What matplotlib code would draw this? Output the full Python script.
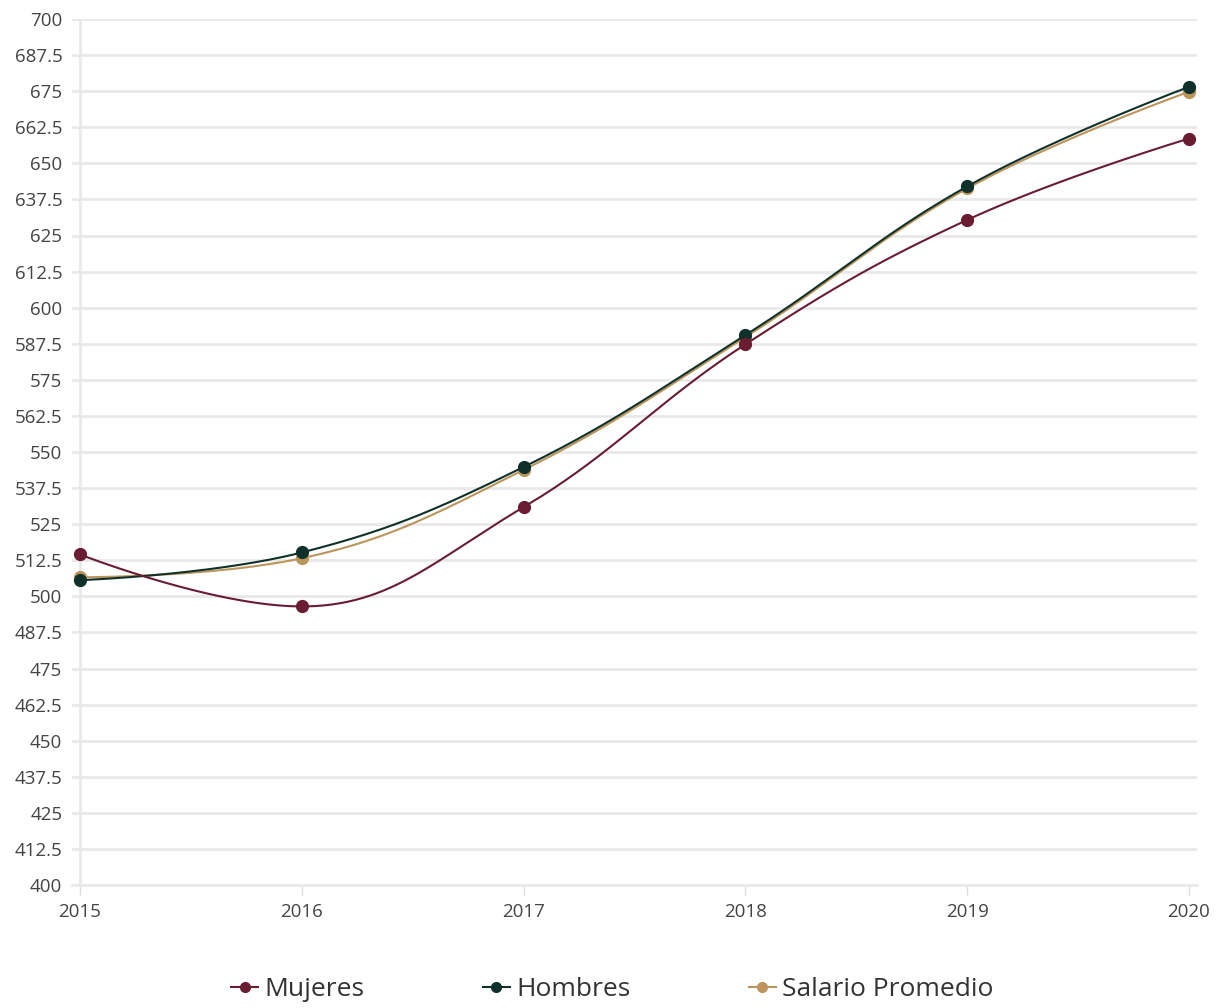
import numpy as np
import matplotlib
matplotlib.use('agg')
import matplotlib.pyplot as plt
from matplotlib.lines import Line2D

plt.rcParams['font.family'] = ['Open Sans', 'DejaVu Sans']

years = [2015, 2016, 2017, 2018, 2019, 2020]
mujeres = [514.5, 496.5, 530.9, 587.3, 630.4, 658.6]
hombres = [505.6, 515.2, 544.8, 590.5, 642.0, 676.5]
salario = [506.6, 513.2, 543.8, 589.8, 641.3, 674.8]

series_names = ['Mujeres', 'Hombres', 'Salario Promedio']
colores = ['#691c32', '#10312b', '#bc955c']

y_ticks = np.arange(400, 700.1, 12.5)


# spline a la Highcharts (smoothing 1.5, sin extremos falsos)
def spline(xs, ys, n=60):
    xs = [float(v) for v in xs]
    ys = [float(v) for v in ys]
    k = len(xs)
    lc = [(xs[i], ys[i]) for i in range(k)]
    rc = [(xs[i], ys[i]) for i in range(k)]
    sm = 1.5
    den = sm + 1
    for i in range(1, k - 1):
        px, py = xs[i], ys[i]
        lx, ly = xs[i - 1], ys[i - 1]
        nx, ny = xs[i + 1], ys[i + 1]
        lcx = (sm * px + lx) / den
        lcy = (sm * py + ly) / den
        rcx = (sm * px + nx) / den
        rcy = (sm * py + ny) / den
        corr = 0
        if rcx != lcx:
            corr = (rcy - lcy) * (rcx - px) / (rcx - lcx) + py - rcy
        lcy += corr
        rcy += corr
        if lcy > ly and lcy > py:
            lcy = max(ly, py)
            rcy = 2 * py - lcy
        elif lcy < ly and lcy < py:
            lcy = min(ly, py)
            rcy = 2 * py - lcy
        if rcy > ny and rcy > py:
            rcy = max(ny, py)
            lcy = 2 * py - rcy
        elif rcy < ny and rcy < py:
            rcy = min(ny, py)
            lcy = 2 * py - rcy
        lc[i] = (lcx, lcy)
        rc[i] = (rcx, rcy)
    t = np.linspace(0, 1, n)
    out_x, out_y = [], []
    for i in range(1, k):
        p0 = (xs[i - 1], ys[i - 1])
        p1 = rc[i - 1]
        p2 = lc[i]
        p3 = (xs[i], ys[i])
        bx = (1 - t) ** 3 * p0[0] + 3 * (1 - t) ** 2 * t * p1[0] + 3 * (1 - t) * t ** 2 * p2[0] + t ** 3 * p3[0]
        by = (1 - t) ** 3 * p0[1] + 3 * (1 - t) ** 2 * t * p1[1] + 3 * (1 - t) * t ** 2 * p2[1] + t ** 3 * p3[1]
        out_x.extend(bx)
        out_y.extend(by)
    return out_x, out_y


fig = plt.figure(figsize=(12.25, 10.08), dpi=100)
# area de trazado un poco mas ancha que los datos (como en el original)
ax = fig.add_axes([72 / 1225, 1 - 885 / 1008, (1197 - 72) / 1225, (885 - 19) / 1008])

datos = [mujeres, hombres, salario]
zorders = [5, 4, 3]
for vals, nombre, col, z in zip(datos, series_names, colores, zorders):
    sx, sy = spline(years, vals)
    ax.plot(sx, sy, color=col, lw=1.5, zorder=z, solid_capstyle='round')
    ax.plot(years, vals, 'o', color=col, ms=8.5, zorder=z + 0.5, clip_on=False)

pad = 8 / ((1189 - 80) / 5)
ax.set_xlim(2015 - pad, 2020 + pad)
ax.set_ylim(400, 700)
ax.set_yticks(y_ticks)
ax.set_yticklabels(['{:g}'.format(v) for v in y_ticks])
ax.set_xticks(years)
ax.set_xticklabels([str(y) for y in years])

ax.grid(axis='y', color='#e9e9e9', lw=2)
ax.axvline(2015, color='#e9e9e9', lw=2, zorder=1)
ax.set_axisbelow(True)
for s in ['top', 'right', 'left']:
    ax.spines[s].set_visible(False)
ax.spines['bottom'].set_color('#e9e9e9')
ax.spines['bottom'].set_linewidth(2)
ax.tick_params(axis='y', length=0, pad=7, labelsize=13.5, labelcolor='#444444')
ax.tick_params(axis='x', length=7, width=1, color='#dddddd', pad=6, labelsize=13.5,
               labelcolor='#444444')

handles = [Line2D([0], [0], color=c, lw=1.5, marker='o', ms=7) for c in colores]
fig.legend(handles, series_names, loc='center', bbox_to_anchor=(0.5, 1 - 990 / 1008),
           ncol=3, frameon=False, fontsize=19, handlelength=1.0, handletextpad=0.25,
           columnspacing=4.5, labelcolor='#333333')

fig.savefig('out.png', dpi=100)
